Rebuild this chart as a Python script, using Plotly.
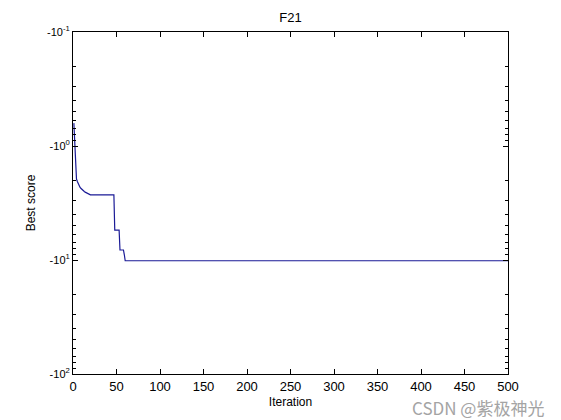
import plotly.graph_objects as go

# Best score per iteration
early_scores = [-0.63, -1.02, -1.65, -1.95, -2.05, -2.15, -2.24, -2.30, -2.35, -2.40,
                -2.44, -2.48, -2.51, -2.54, -2.57, -2.60, -2.62, -2.64, -2.66]
plateau1 = [-2.68] * 28          # iterations 20..47
plateau2 = [-5.46] * 6           # iterations 48..53
plateau3 = [-8.17] * 5           # iterations 54..58
plateau4 = [-9.0] * 1            # iteration 59
final_scores = [-10.1532] * 441  # iterations 60..500
best_score = early_scores + plateau1 + plateau2 + plateau3 + plateau4 + final_scores
iterations = list(range(1, len(best_score) + 1))

x_ticks = list(range(0, 501, 50))
y_tickvals = [0.1, 1, 10, 100]
y_ticktext = ["-10<sup>-1</sup>", "-10<sup>0</sup>", "-10<sup>1</sup>", "-10<sup>2</sup>"]
y_minor_ticks = [m * d for d in (0.1, 1, 10) for m in range(2, 10)]

magnitude = [-v for v in best_score]

fig = go.Figure()
# transparent copy on the overlay axis so the minor-tick axis gets drawn
fig.add_trace(go.Scatter(x=iterations, y=magnitude, yaxis="y2", mode="lines",
                         line=dict(color="rgba(0,0,0,0)", width=1),
                         showlegend=False, hoverinfo="skip"))
fig.add_trace(go.Scatter(
    x=iterations, y=magnitude, mode="lines",
    line=dict(color="#1a1a96", width=1.2), showlegend=False))

# page body has an 8px margin; compensate so the plot lands where the reference has it
W, H = 553, 412
L, T, PW, PH = 65, 24, 435, 342

font = dict(family="Liberation Sans, Arial", size=12, color="black")
fig.update_layout(
    width=W, height=H,
    margin=dict(l=L, r=W - L - PW, t=T, b=H - T - PH, autoexpand=False),
    paper_bgcolor="white", plot_bgcolor="white",
    font=font,
    title=dict(text="F21", x=0.5, xref="paper", xanchor="center",
               y=1 - 9.5 / H, yref="container", yanchor="middle",
               font=dict(size=13)),
    xaxis=dict(range=[0, 500], tickvals=x_ticks, ticks="inside", ticklen=5,
               showline=True, linecolor="black", linewidth=1, mirror="ticks",
               showgrid=False, zeroline=False, tickcolor="black", automargin=False,
               tickfont=dict(size=13),
               title=dict(text="Iteration", standoff=5, font=dict(size=12))),
    yaxis=dict(type="log", range=[2, -1], tickvals=y_tickvals, ticktext=y_ticktext,
               ticks="inside", ticklen=5, showline=True, linecolor="black", linewidth=1,
               mirror="ticks", showgrid=False, zeroline=False, tickcolor="black",
               automargin=False, tickfont=dict(size=11),
               title=dict(text="Best score", standoff=8, font=dict(size=12))),
    yaxis2=dict(type="log", range=[2, -1], overlaying="y", side="left",
                tickvals=y_minor_ticks, showticklabels=False, ticks="inside", ticklen=3,
                tickcolor="black", showline=True, linecolor="black", mirror="ticks",
                showgrid=False, zeroline=False, automargin=False),
    annotations=[dict(text="CSDN @紫极神光", x=(546 - 8 - L) / PW, y=(T + PH - (407 - 8)) / PH,
                      xref="paper", yref="paper", showarrow=False,
                      font=dict(family="Noto Sans CJK SC", size=17, color="#a4a4a4"),
                      xanchor="right", yanchor="middle")]
)

fig.write_html("out.html")
